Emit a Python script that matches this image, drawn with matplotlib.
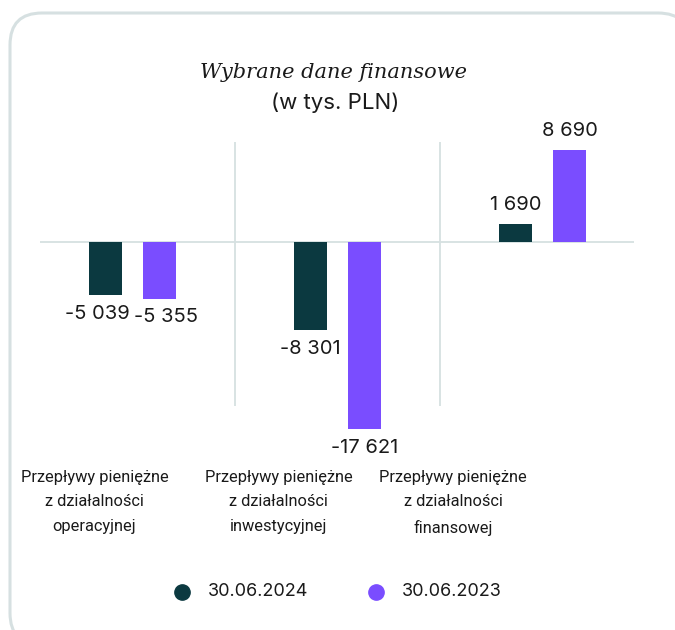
import matplotlib
matplotlib.use("Agg")
import matplotlib.pyplot as plt
from matplotlib.patches import FancyBboxPatch
import numpy as np

categories = ["Przepływy pieniężne\nz działalności\noperacyjnej",
              "Przepływy pieniężne\nz działalności\ninwestycyjnej",
              "Przepływy pieniężne\nz działalności\nfinansowej"]
series_names = ["30.06.2024", "30.06.2023"]
values_2024 = [-5039, -8301, 1690]
values_2023 = [-5355, -17621, 8690]

dark = "#0b3940"
purple = "#7a4dff"
grid_col = "#d6e0e1"
text_col = "#1a1a1a"

plt.rcParams["font.family"] = ["Inter", "DejaVu Sans"]

W, H, DPI = 675, 630, 100
fig = plt.figure(figsize=(W / DPI, H / DPI), dpi=DPI)

# card background with rounded corners (in inches)
card = FancyBboxPatch((0.10, -0.15), 6.80, 6.32,
                      boxstyle="round,pad=0,rounding_size=0.32",
                      transform=fig.dpi_scale_trans, zorder=-10,
                      facecolor="white", edgecolor=grid_col, linewidth=2.2)
fig.patches.append(card)

def fx(px):
    return px / W

def fy(px):
    return 1 - px / H

# axes box: x 40..634 px, y 142..406 px (from top)
ax = fig.add_axes([fx(40), fy(406), fx(634) - fx(40), (406 - 142) / H])
ax.set_facecolor("none")
k = 0.0106  # px per unit
ax.set_ylim(-164 / k, 100 / k)
ax.set_xlim(-0.451, 2.446)
for s in ax.spines.values():
    s.set_visible(False)
ax.set_xticks([])
ax.set_yticks([])

x = np.arange(len(categories))
off = 27 / 205
bw = 33 / 205

ax.axhline(0, color=grid_col, lw=1.3, zorder=1)
for sep in x[:-1] + 0.5:
    ax.axvline(sep, color=grid_col, lw=1.3, zorder=1)

b1 = ax.bar(x - off, values_2024, width=bw, color=dark, zorder=2, clip_on=False)
b2 = ax.bar(x + off, values_2023, width=bw, color=purple, zorder=2, clip_on=False)

def fmt(v):
    s = f"{abs(v):,}".replace(",", " ")
    return ("-" if v < 0 else "") + s

nudge = {(0, 0): -6, (0, 1): 5}
for si, bars in enumerate([b1, b2]):
    for ci, bar in enumerate(bars):
        v = bar.get_height()
        xc = bar.get_x() + bar.get_width() / 2
        dx = nudge.get((ci, si), 0)
        if v < 0:
            ax.annotate(fmt(int(v)), (xc, v), xytext=(dx, -7),
                        textcoords="offset points", ha="center", va="top",
                        fontsize=14.5, color=text_col, annotation_clip=False)
        else:
            ax.annotate(fmt(int(v)), (xc, v), xytext=(dx, 7),
                        textcoords="offset points", ha="center", va="bottom",
                        fontsize=14.5, color=text_col, annotation_clip=False)

# title
fig.text(fx(334), fy(72), "Wybrane dane finansowe", ha="center", va="center",
         fontsize=15, style="italic", family=["DejaVu Serif"],
         color=text_col)
fig.text(fx(335), fy(103), "(w tys. PLN)", ha="center", va="center",
         fontsize=16, color=text_col)

# category labels
label_x = [94.5, 278.5, 453]
for lx, lab in zip(label_x, categories):
    fig.text(fx(lx), fy(470), lab, ha="center", va="top", fontsize=11.8,
             family=["Roboto", "DejaVu Sans"], color=text_col, linespacing=1.78)

# legend
for mx, tx, name, col in [(182, 208, series_names[0], dark),
                          (376, 402, series_names[1], purple)]:
    fig.lines.append(plt.Line2D([fx(mx)], [fy(592)], marker="o", markersize=11,
                                color=col, linestyle="none",
                                transform=fig.transFigure))
    fig.text(fx(tx), fy(592), name, ha="left", va="center", fontsize=13,
             color=text_col)

fig.savefig("out.png", dpi=DPI)
